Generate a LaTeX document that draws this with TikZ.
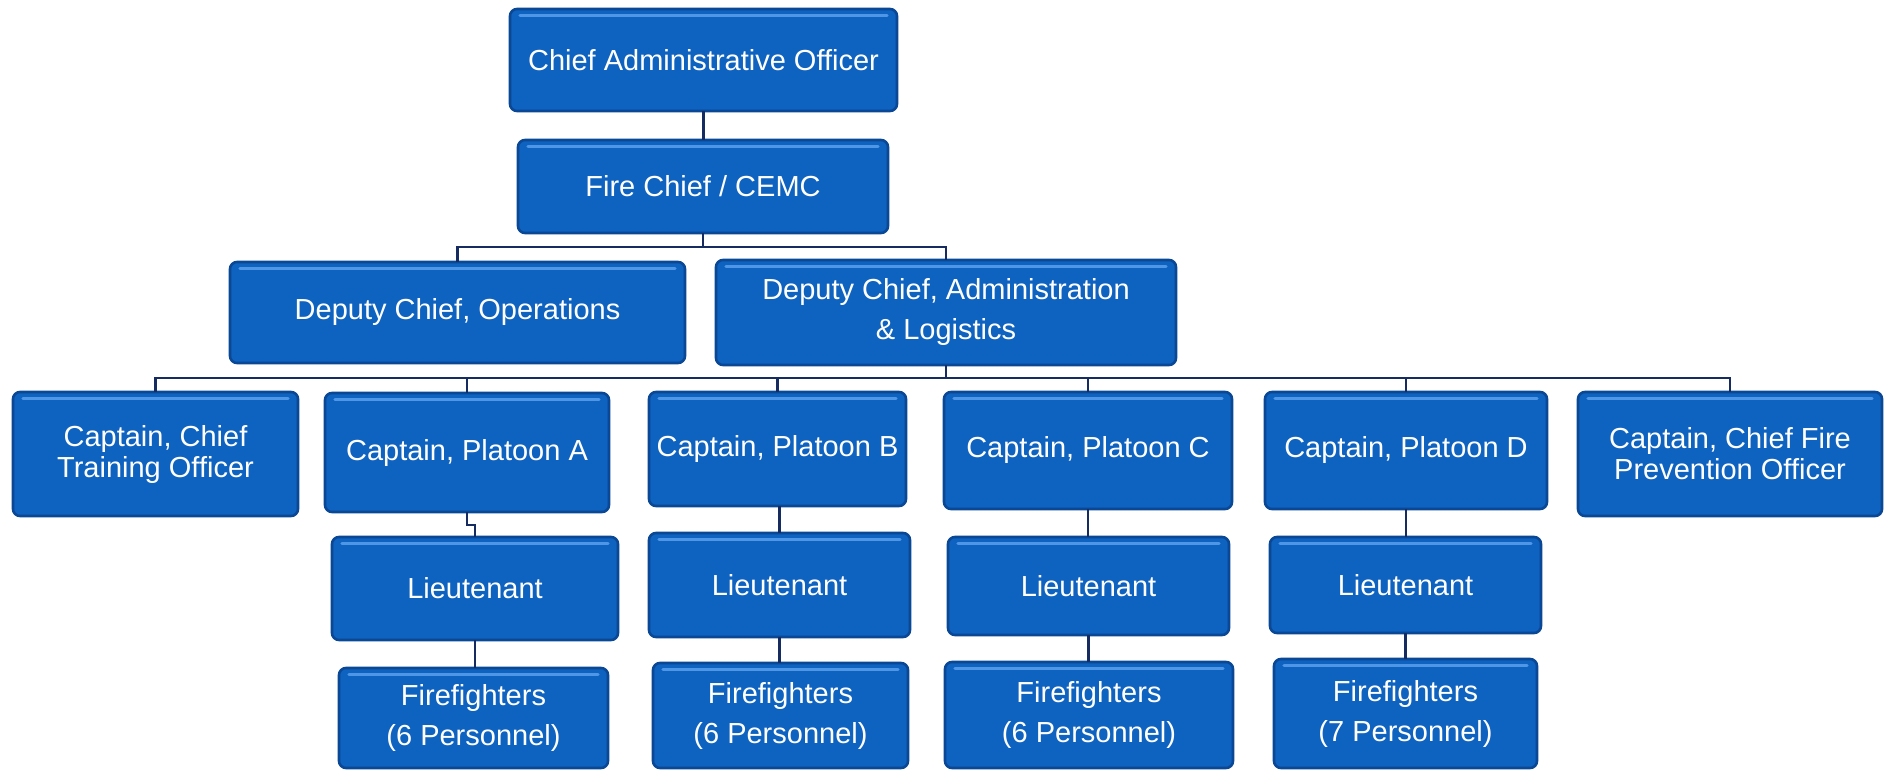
\documentclass[tikz,border=0pt]{standalone}
\usepackage{fontspec}
\setmainfont{Liberation Sans}
\definecolor{boxfill}{RGB}{14,98,192}
\definecolor{boxedge}{RGB}{10,72,150}
\definecolor{boxhi}{RGB}{80,150,230}
\definecolor{linecol}{RGB}{22,44,96}
\tikzset{
  box/.style={rectangle, rounded corners=3.5pt, draw=boxedge, line width=1.3pt,
    fill=boxfill, text=white, font=\fontsize{14.5}{15.5}\selectfont, align=center,
    inner sep=0pt, outer sep=0pt,
    path picture={\draw[boxhi, line width=1.6pt, line cap=round]
      ([xshift=5pt,yshift=-3.2pt]path picture bounding box.north west) --
      ([xshift=-5pt,yshift=-3.2pt]path picture bounding box.north east);}},
  conn/.style={draw=linecol, line width=1.2pt}
}
\newcommand\orgbox[6]{%
  \pgfmathsetmacro\bxc{(#2+#4)/2}%
  \pgfmathsetmacro\byc{(#3+#5)/2}%
  \pgfmathsetmacro\bw{(#4-#2)*0.5}%
  \pgfmathsetmacro\bh{(#5-#3)*0.5}%
  \node[box, minimum width=\bw pt, minimum height=\bh pt] (#1) at (\bxc,\byc) {#6};}
\begin{document}
\begin{tikzpicture}[x=0.5pt,y=-0.5pt]
\useasboundingbox (0,0) rectangle (1889,770);
\fill[white] (0,0) rectangle (1889,770);
% boxes
\orgbox{cao}{510}{9}{897}{111}{Chief Administrative Officer}
\orgbox{fc}{518}{140}{888}{233}{Fire Chief / CEMC}
\orgbox{dco}{230}{262}{685}{363}{Deputy Chief, Operations}
\orgbox{dca}{716}{260}{1176}{365}{Deputy Chief, Administration\\[4.5pt]\& Logistics}
\orgbox{cct}{13}{392}{298}{516}{Captain, Chief\\Training Officer}
\orgbox{capa}{325}{393}{609}{512}{Captain, Platoon A}
\orgbox{capb}{649}{392}{906}{506}{Captain, Platoon B}
\orgbox{capc}{944}{392}{1232}{509}{Captain, Platoon C}
\orgbox{capd}{1265}{392}{1547}{509}{Captain, Platoon D}
\orgbox{ccfp}{1578}{392}{1882}{516}{Captain, Chief Fire\\Prevention Officer}
\orgbox{lta}{332}{537}{618}{640}{Lieutenant}
\orgbox{ltb}{649}{533}{910}{637}{Lieutenant}
\orgbox{ltc}{948}{537}{1229}{635}{Lieutenant}
\orgbox{ltd}{1270}{537}{1541}{633}{Lieutenant}
\orgbox{ffa}{339}{668}{608}{768}{Firefighters\\[4.5pt](6 Personnel)}
\orgbox{ffb}{653}{663}{908}{768}{Firefighters\\[4.5pt](6 Personnel)}
\orgbox{ffc}{945}{662}{1233}{768}{Firefighters\\[4.5pt](6 Personnel)}
\orgbox{ffd}{1274}{659}{1537}{768}{Firefighters\\[4.5pt](7 Personnel)}
% connectors
\coordinate (j1) at (704,247);
\coordinate (j2) at (946,378);
\draw[conn] (cao.south) -- (cao.south |- fc.north);
\draw[conn] (fc.south) -- (fc.south |- j1);
\draw[conn] (dco.north) -- (dco.north |- j1) -- (dca.north |- j1) -- (dca.north);
\draw[conn] (dca.south) -- (dca.south |- j2);
\draw[conn] (cct.north) -- (cct.north |- j2) -- (ccfp.north |- j2) -- (ccfp.north);
\draw[conn] (capa.north) -- (capa.north |- j2);
\draw[conn] (capb.north) -- (capb.north |- j2);
\draw[conn] (capc.north) -- (capc.north |- j2);
\draw[conn] (capd.north) -- (capd.north |- j2);
\draw[conn] (capa.south) -- ++(0,13) -| (lta.north);
\draw[conn] (ltb.north |- capb.south) -- (ltb.north);
\draw[conn] (capc.south) -- (capc.south |- ltc.north);
\draw[conn] (capd.south) -- (capd.south |- ltd.north);
\draw[conn] (lta.south) -- (lta.south |- ffa.north);
\draw[conn] (ltb.south) -- (ltb.south |- ffb.north);
\draw[conn] (ltc.south) -- (ltc.south |- ffc.north);
\draw[conn] (ltd.south) -- (ltd.south |- ffd.north);
\end{tikzpicture}
\end{document}
